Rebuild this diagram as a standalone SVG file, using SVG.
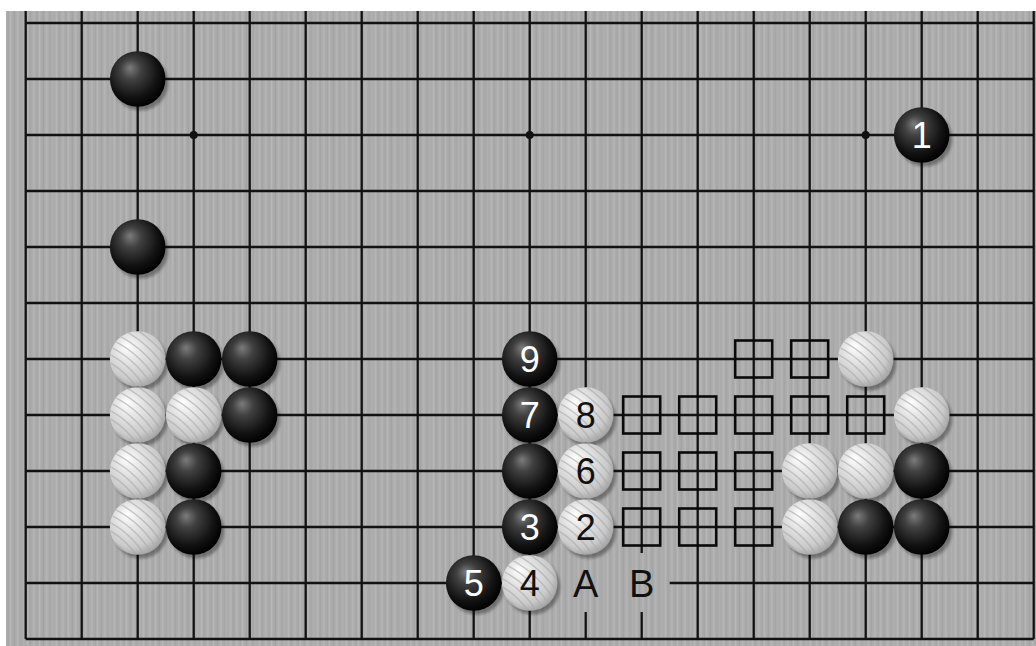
<svg xmlns="http://www.w3.org/2000/svg" width="1036" height="646" viewBox="0 0 1036 646">
<style>
.ln{stroke:#121212;stroke-width:2.3;fill:none}
.sq{stroke:#0a0a0a;stroke-width:2.6;fill:none}
.nb{font-family:"Liberation Sans",Arial,sans-serif;font-size:36px;fill:#ffffff;text-anchor:middle}
.nw{font-family:"Liberation Sans",Arial,sans-serif;font-size:36px;fill:#111111;text-anchor:middle}
.lb{font-family:"Liberation Sans",Arial,sans-serif;font-size:38px;fill:#111111;text-anchor:middle}
</style>
<defs>
<pattern id="wood" patternUnits="userSpaceOnUse" x="0" y="0" width="29" height="40">
<rect width="29" height="40" fill="#ababab"/>
<rect x="1" width="1.5" height="40" fill="#b7b7b7"/>
<rect x="4" width="1" height="40" fill="#a2a2a2"/>
<rect x="7" width="2" height="40" fill="#b3b3b3"/>
<rect x="11" width="1" height="40" fill="#a4a4a4"/>
<rect x="13" width="1.5" height="40" fill="#b8b8b8"/>
<rect x="17" width="1" height="40" fill="#a0a0a0"/>
<rect x="20" width="2" height="40" fill="#b4b4b4"/>
<rect x="24" width="1" height="40" fill="#a5a5a5"/>
<rect x="26" width="1.5" height="40" fill="#b0b0b0"/>
</pattern>
<radialGradient id="gb" cx="0.42" cy="0.4" r="0.62" fx="0.36" fy="0.3">
<stop offset="0" stop-color="#7c7c7c"/>
<stop offset="0.3" stop-color="#404040"/>
<stop offset="0.75" stop-color="#111111"/>
<stop offset="1" stop-color="#000000"/>
</radialGradient>
<radialGradient id="gw" cx="0.42" cy="0.4" r="0.62" fx="0.3" fy="0.26">
<stop offset="0" stop-color="#ffffff"/>
<stop offset="0.35" stop-color="#e6e6e6"/>
<stop offset="0.8" stop-color="#c9c9c9"/>
<stop offset="1" stop-color="#a5a5a5"/>
</radialGradient>
<filter id="sh" x="-0.3" y="-0.3" width="1.6" height="1.6">
<feGaussianBlur stdDeviation="1.6"/>
</filter>
<clipPath id="cw"><circle cx="0" cy="0" r="27.5"/></clipPath>
<g id="B">
<circle cx="3" cy="4" r="27.5" fill="#000" opacity="0.35" filter="url(#sh)"/>
<circle cx="0" cy="0" r="27.8" fill="url(#gb)"/>
</g>
<g id="W">
<circle cx="3" cy="4" r="27.5" fill="#000" opacity="0.35" filter="url(#sh)"/>
<circle cx="0" cy="0" r="27.8" fill="url(#gw)"/>
<g clip-path="url(#cw)" fill="none" stroke="#a8a8a8" stroke-width="1.4" opacity="0.6">
<circle cx="-70" cy="75" r="62"/>
<circle cx="-70" cy="75" r="69"/>
<circle cx="-70" cy="75" r="76"/>
<circle cx="-70" cy="75" r="83"/>
<circle cx="-70" cy="75" r="90"/>
<circle cx="-70" cy="75" r="97"/>
<circle cx="-70" cy="75" r="104"/>
<circle cx="-70" cy="75" r="111"/>
<circle cx="-70" cy="75" r="118"/>
<circle cx="-70" cy="75" r="125"/>
<circle cx="-70" cy="75" r="132"/>
</g>
</g>
<rect id="S" x="-18.5" y="-18.5" width="37" height="37"/>
</defs>
<rect width="1036" height="646" fill="#ffffff"/>
<g transform="translate(25.7,23)">
<g id="board">
<rect x="-19.7" y="-12" width="1030" height="635" fill="url(#wood)"/>
</g>
<g id="grid" class="ln">
<path d="M0,-12V616M56,-12V616M112,-12V616M168,-12V616M224,-12V616M280,-12V616M336,-12V616M392,-12V616M448,-12V616M504,-12V616M560,-12V616M616,-12V616M672,-12V616M728,-12V616M784,-12V616M840,-12V616M896,-12V616M952,-12V616M1008,-12V616"/>
<path d="M0,0H1008M0,56H1008M0,112H1008M0,168H1008M0,224H1008M0,280H1008M0,336H1008M0,392H1008M0,448H1008M0,504H1008M0,560H1008M0,616H1008"/>
</g>
<g id="stars" fill="#111">
<circle cx="168" cy="112" r="4"/>
<circle cx="504" cy="112" r="4"/>
<circle cx="840" cy="112" r="4"/>
</g>
<g id="label-mask">
<rect x="522" y="530" width="122" height="59" fill="url(#wood)"/>
</g>
<g id="marks" class="sq">
<use href="#S" x="728" y="336"/>
<use href="#S" x="784" y="336"/>
<use href="#S" x="616" y="392"/>
<use href="#S" x="672" y="392"/>
<use href="#S" x="728" y="392"/>
<use href="#S" x="784" y="392"/>
<use href="#S" x="840" y="392"/>
<use href="#S" x="616" y="448"/>
<use href="#S" x="672" y="448"/>
<use href="#S" x="728" y="448"/>
<use href="#S" x="616" y="504"/>
<use href="#S" x="672" y="504"/>
<use href="#S" x="728" y="504"/>
</g>
<g id="upper-left-stones">
<use href="#B" x="112" y="56"/>
<use href="#B" x="112" y="224"/>
</g>
<g id="stone-1"><use href="#B" x="896" y="112"/><text class="nb" x="896" y="125">1</text></g>
<g id="left-group">
<use href="#W" x="112" y="336"/>
<use href="#B" x="168" y="336"/>
<use href="#B" x="224" y="336"/>
<use href="#W" x="112" y="392"/>
<use href="#W" x="168" y="392"/>
<use href="#B" x="224" y="392"/>
<use href="#W" x="112" y="448"/>
<use href="#B" x="168" y="448"/>
<use href="#W" x="112" y="504"/>
<use href="#B" x="168" y="504"/>
</g>
<g id="stone-9"><use href="#B" x="504" y="336"/><text class="nb" x="504" y="349">9</text></g>
<g id="stone-7"><use href="#B" x="504" y="392"/><text class="nb" x="504" y="405">7</text></g>
<g id="stone-8"><use href="#W" x="560" y="392"/><text class="nw" x="560" y="405">8</text></g>
<g id="stone-b"><use href="#B" x="504" y="448"/></g>
<g id="stone-6"><use href="#W" x="560" y="448"/><text class="nw" x="560" y="461">6</text></g>
<g id="stone-3"><use href="#B" x="504" y="504"/><text class="nb" x="504" y="517">3</text></g>
<g id="stone-2"><use href="#W" x="560" y="504"/><text class="nw" x="560" y="517">2</text></g>
<g id="stone-5"><use href="#B" x="448" y="560"/><text class="nb" x="448" y="573">5</text></g>
<g id="stone-4"><use href="#W" x="504" y="560"/><text class="nw" x="504" y="573">4</text></g>
<g id="label-A"><text class="lb" x="560" y="574">A</text></g>
<g id="label-B"><text class="lb" x="616" y="574">B</text></g>
<g id="right-group">
<use href="#W" x="840" y="336"/>
<use href="#W" x="896" y="392"/>
<use href="#W" x="784" y="448"/>
<use href="#W" x="840" y="448"/>
<use href="#B" x="896" y="448"/>
<use href="#W" x="784" y="504"/>
<use href="#B" x="840" y="504"/>
<use href="#B" x="896" y="504"/>
</g>
</g>
</svg>
